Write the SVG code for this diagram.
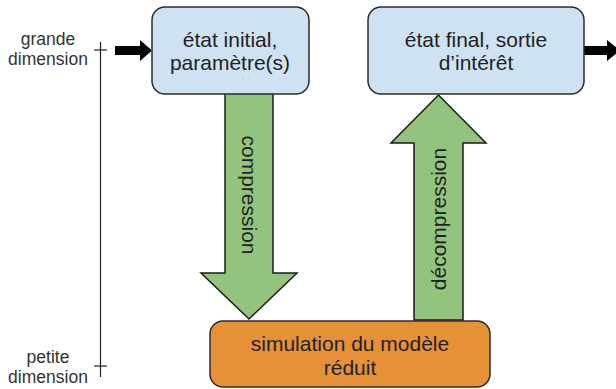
<svg xmlns="http://www.w3.org/2000/svg" width="616" height="389" viewBox="0 0 616 389">
<style>
.box{stroke:#2b2b2b;stroke-width:1.5}
.blue{fill:#cfe2f3}
.orange{fill:#e69138}
.green{fill:#93c47d;stroke:#1a1a1a;stroke-width:1.5}
.t{font-family:"Liberation Sans",Arial,sans-serif;font-size:21px;fill:#1f1f1f;text-anchor:middle}
.s{font-family:"Liberation Sans",Arial,sans-serif;font-size:17.5px;fill:#333;text-anchor:middle}
.axis{stroke:#222;stroke-width:1.2;fill:none}
.blk{fill:#000}
</style>
<rect width="616" height="389" fill="#fff"/>
<g id="axis">
<line class="axis" x1="100.5" y1="42" x2="100.5" y2="377"/>
<line class="axis" x1="94" y1="50" x2="107" y2="50"/>
<line class="axis" x1="94" y1="366" x2="107" y2="366"/>
<text class="s" x="48" y="45">grande</text>
<text class="s" x="48" y="65">dimension</text>
<text class="s" x="48" y="363">petite</text>
<text class="s" x="48" y="383">dimension</text>
</g>
<g id="connectors">
<polygon class="blk" points="115,46 140,46 140,40 152,50.5 140,61 140,55 115,55"/>
<polygon class="blk" points="584,46 607,46 607,40 620,50.5 607,61 607,55 584,55"/>
<g id="compression">
<polygon class="green" points="225,93 273,93 273,273 297,273 249,319 201,273 225,273"/>
<text class="t" transform="translate(249,195) rotate(90)" y="7">compression</text>
</g>
<g id="decompression">
<polygon class="green" points="414,320 463,320 463,143 486,143 438.5,95 391,143 414,143"/>
<text class="t" transform="translate(439,219) rotate(-90)" y="7">décompression</text>
</g>
</g>
<g id="initial">
<rect class="box blue" x="152" y="7" width="157" height="87" rx="13"/>
<text class="t" x="230" y="47">état initial,</text>
<text class="t" x="230" y="70">paramètre(s)</text>
</g>
<g id="final">
<rect class="box blue" x="368" y="7" width="216" height="87" rx="13"/>
<text class="t" x="476" y="47">état final, sortie</text>
<text class="t" x="476" y="70">d’intérêt</text>
</g>
<g id="simulation">
<rect class="box orange" x="210" y="321" width="280" height="66" rx="13"/>
<text class="t" x="350" y="351">simulation du modèle</text>
<text class="t" x="350" y="375">réduit</text>
</g>
</svg>
